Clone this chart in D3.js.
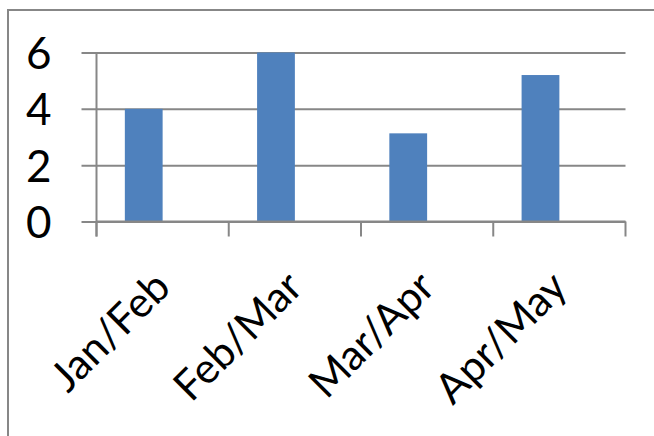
<!DOCTYPE html>
<html>
<head>
<meta charset="utf-8">
<script src="https://cdn.jsdelivr.net/npm/d3@7"></script>
<style>
  html, body { margin: 0; padding: 0; background: #fff; }
  svg { display: block; }
  text { font-family: Lato, "Open Sans", sans-serif; fill: #000; }
</style>
</head>
<body>
<svg id="chart" width="654" height="436"></svg>
<script>
// Month-pair categories and their values
const categories = ["Jan/Feb", "Feb/Mar", "Mar/Apr", "Apr/May"];
const values = [4, 6, 3.13, 5.2];
const seriesSlots = ["Series1", "Series2"];   // clustered layout: only the first slot is filled
const yTicks = [0, 2, 4, 6];

const W = 654, H = 436;
const plot = { left: 96.5, right: 625.5, top: 52.5, bottom: 221.5 };
const gridColor = "#878787";
const barColor = "#4F81BD";
const tickFontSize = 44;
const catFontSize = 42;

const svg = d3.select("#chart");

// Chart frame (extends past the right and bottom edges)
svg.append("rect")
  .attr("x", 8).attr("y", 10)
  .attr("width", W + 20).attr("height", H + 20)
  .attr("fill", "#fff")
  .attr("stroke", gridColor)
  .attr("stroke-width", 2);

const x0 = d3.scaleBand()
  .domain(categories)
  .range([plot.left, plot.right])
  .paddingInner(0).paddingOuter(0);

const x1 = d3.scaleBand()
  .domain(seriesSlots)
  .range([0, x0.bandwidth()])
  .paddingInner(0).paddingOuter(0.75);

const y = d3.scaleLinear()
  .domain([0, 6])
  .range([plot.bottom, plot.top]);

// Horizontal gridlines, extended left as outside tick marks
const yAxis = d3.axisLeft(y)
  .tickValues(yTicks)
  .tickSize(-(plot.right - plot.left))
  .tickSizeOuter(0)
  .tickPadding(0)
  .tickFormat(d3.format("d"));

const gy = svg.append("g")
  .attr("transform", `translate(${plot.left},0)`)
  .call(yAxis);
gy.select(".domain").remove();
gy.selectAll(".tick line")
  .attr("x1", -15)
  .attr("stroke", gridColor)
  .attr("stroke-width", 2);
gy.selectAll(".tick text")
  .attr("x", -45)
  .attr("dy", "0.36em")
  .attr("text-anchor", "end")
  .style("font-size", tickFontSize + "px")
  .style("font-family", "Lato, sans-serif")
  .attr("fill", "#000");

// Bars
svg.append("g")
  .selectAll("rect")
  .data(categories)
  .join("rect")
  .attr("x", (c) => x0(c) + x1("Series1"))
  .attr("width", x1.bandwidth())
  .attr("y", (c, i) => y(values[i]))
  .attr("height", (c, i) => y(0) - y(values[i]))
  .attr("fill", barColor);

// Vertical axis line
svg.append("line")
  .attr("x1", plot.left).attr("x2", plot.left)
  .attr("y1", plot.top).attr("y2", plot.bottom + 15)
  .attr("stroke", gridColor).attr("stroke-width", 2);

// Category axis: ticks at band boundaries, rotated labels at band centres
const boundaries = categories.map((c) => x0(c)).concat([plot.right]);
const xAxisG = svg.append("g");
xAxisG.append("line")
  .attr("x1", plot.left).attr("x2", plot.right)
  .attr("y1", plot.bottom).attr("y2", plot.bottom)
  .attr("stroke", gridColor).attr("stroke-width", 2);
xAxisG.selectAll("line.tick")
  .data(boundaries)
  .join("line")
  .attr("class", "tick")
  .attr("x1", (d) => d).attr("x2", (d) => d)
  .attr("y1", plot.bottom).attr("y2", plot.bottom + 15)
  .attr("stroke", gridColor).attr("stroke-width", 2);

xAxisG.selectAll("text")
  .data(categories)
  .join("text")
  .attr("text-anchor", "end")
  .style("font-size", catFontSize + "px")
  .attr("transform", (c) => {
    const cx = x0(c) + x0.bandwidth() / 2 + 10;
    const cy = plot.bottom + 68;
    return `translate(${cx},${cy}) rotate(-45)`;
  })
  .text((c) => c);
</script>
</body>
</html>
